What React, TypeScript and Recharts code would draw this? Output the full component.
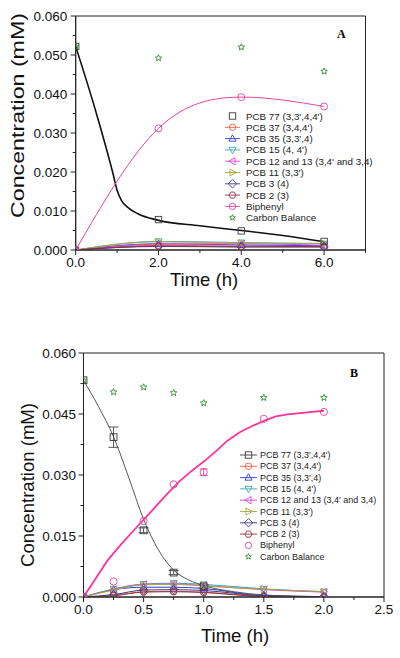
import React from 'react';
import { LineChart, Line, XAxis, YAxis, ReferenceArea, ErrorBar, Legend, Label } from 'recharts';

const FONT = '"Liberation Sans", Arial, Helvetica, sans-serif';

// ---------- Panel A data ----------
const timesA = [0, 2, 4, 6];
const pcb77A = [0.0522, 0.0078, 0.0049, 0.0022];
const pcb37A = [0, 0.0012, 0.001, 0.0009];
const pcb35A = [0, 0.0016, 0.0013, 0.0011];
const pcb15A = [0, 0.0022, 0.0019, 0.0016];
const pcb12A = [0, 0.0015, 0.0016, 0.0012];
const pcb11A = [0, 0.0021, 0.0018, 0.0017];
const pcb3A = [0, 0.0009, 0.0008, 0.0008];
const pcb2A = [0, 0.001, 0.0008, 0.0008];
const biphenylA = [0, 0.0312, 0.0392, 0.0368];
const carbonA = [0.0522, 0.0492, 0.052, 0.0458];
// fitted decay curve for PCB 77
const fitTimesA = [0, 0.5, 0.9, 1.0, 1.1, 1.25, 1.5, 2, 3, 4, 5, 6];
const pcb77FitA = [0.0522, 0.035, 0.0196, 0.0153, 0.0128, 0.011, 0.0093, 0.0076, 0.0062, 0.005, 0.0037, 0.0021];

const xTicksA = [0, 1, 2, 3, 4, 5, 6, 7];
const xLabelsA = [0, 2, 4, 6];
const yTicksA = [0, 0.005, 0.01, 0.015, 0.02, 0.025, 0.03, 0.035, 0.04, 0.045, 0.05, 0.055, 0.06];
const yLabelsA = [0, 0.01, 0.02, 0.03, 0.04, 0.05, 0.06];

// ---------- Panel B data ----------
const timesB = [0, 0.25, 0.5, 0.75, 1.0, 1.5, 2.0];
const pcb77TimesB = [0, 0.25, 0.5, 0.75, 1.0];
const pcb77B = [0.0533, 0.0393, 0.0164, 0.006, 0.0026];
const pcb77ErrB = [0, 0.0025, 0.0006, 0.0005, 0.0004];
const pcb37B = [0, 0.0004, 0.0013, 0.0014, 0.0012, 0.0002, 0.0001];
const pcb35B = [0, 0.0018, 0.0024, 0.0024, 0.0021, 0.0003, 0.0001];
const pcb15B = [0, 0.002, 0.0032, 0.0034, 0.0031, 0.002, 0.0013];
const pcb12B = [0, 0.0018, 0.0031, 0.0032, 0.0028, 0.0018, 0.0012];
const pcb11B = [0, 0.0017, 0.003, 0.0031, 0.0027, 0.0019, 0.0013];
const pcb3B = [0, 0.0006, 0.0017, 0.0018, 0.0016, 0.0003, 0.0001];
const pcb2B = [0, 0.0003, 0.0012, 0.0013, 0.0011, 0.0001, 0];
const biphenylB = [0, 0.0038, 0.0187, 0.0277, 0.0307, 0.0438, 0.0455];
const biphenylErrB = [0, 0, 0, 0, 0.0008, 0, 0];
const carbonB = [0.0533, 0.0504, 0.0516, 0.0502, 0.0477, 0.049, 0.049];
// model curves
const fit77TimesB = [0, 0.125, 0.25, 0.375, 0.5, 0.625, 0.75, 0.875, 1.0, 1.25, 1.5, 1.75, 2.0];
const pcb77FitB = [0.0533, 0.0468, 0.0394, 0.0295, 0.0191, 0.0115, 0.0066, 0.0042, 0.0028, 0.0013, 0.0005, 0.0002, 0.0001];
const fitBiTimesB = [0, 0.1, 0.2, 0.3, 0.4, 0.5, 0.6, 0.7, 0.8, 0.9, 1.0, 1.1, 1.2, 1.3, 1.4, 1.5, 1.6, 1.7, 1.8, 1.9, 2.0];
const biphenylFitB = [0, 0.0045, 0.009, 0.0125, 0.0158, 0.019, 0.0222, 0.0255, 0.0285, 0.031, 0.0333, 0.0358, 0.0385, 0.0405, 0.042, 0.0433, 0.0444, 0.0449, 0.0452, 0.0455, 0.0458];

const xTicksB = [0, 0.25, 0.5, 0.75, 1.0, 1.25, 1.5, 1.75, 2.0, 2.25, 2.5];
const xLabelsB = [0, 0.5, 1.0, 1.5, 2.0, 2.5];
const yTicksB = [0, 0.0075, 0.015, 0.0225, 0.03, 0.0375, 0.045, 0.0525, 0.06];
const yLabelsB = [0, 0.015, 0.03, 0.045, 0.06];

type Shape = 'square' | 'circle' | 'up' | 'down' | 'left' | 'right' | 'diamond' | 'hexagon' | 'star';

const C = {
  pcb77: '#3a3a3a',
  pcb37: '#ee5a3c',
  pcb35: '#2f3fd0',
  pcb15: '#3aa6ae',
  pcb12: '#dd44dd',
  pcb11: '#a8a83a',
  pcb3: '#3c3c8c',
  pcb2: '#8c3444',
  biphenyl: '#e2459c',
  carbon: '#2e8b2e',
};

const toPoints = (xs: number[], ys: number[], errs?: number[]) =>
  xs.map((x, i) => ({ x, y: ys[i], err: errs ? errs[i] : 0 }));

const Marker = ({ shape, cx, cy, color, r = 3.2 }: { shape: Shape; cx: number; cy: number; color: string; r?: number }) => {
  const common = { fill: 'none', stroke: color, strokeWidth: 0.9 };
  const poly = (pts: number[][]) => <polygon points={pts.map((p) => `${cx + p[0]},${cy + p[1]}`).join(' ')} {...common} />;
  switch (shape) {
    case 'square':
      return <rect x={cx - r} y={cy - r} width={2 * r} height={2 * r} {...common} />;
    case 'circle':
      return <circle cx={cx} cy={cy} r={r} {...common} />;
    case 'up':
      return poly([[0, -r * 1.2], [r * 1.1, r * 0.8], [-r * 1.1, r * 0.8]]);
    case 'down':
      return poly([[0, r * 1.2], [r * 1.1, -r * 0.8], [-r * 1.1, -r * 0.8]]);
    case 'left':
      return poly([[-r * 1.2, 0], [r * 0.8, -r * 1.1], [r * 0.8, r * 1.1]]);
    case 'right':
      return poly([[r * 1.2, 0], [-r * 0.8, -r * 1.1], [-r * 0.8, r * 1.1]]);
    case 'diamond':
      return poly([[0, -r * 1.3], [r * 1.3, 0], [0, r * 1.3], [-r * 1.3, 0]]);
    case 'hexagon': {
      const pts = [0, 1, 2, 3, 4, 5].map((k) => [r * 1.1 * Math.cos((Math.PI / 3) * k), r * 1.1 * Math.sin((Math.PI / 3) * k)]);
      return poly(pts);
    }
    case 'star': {
      const pts: number[][] = [];
      for (let k = 0; k < 10; k++) {
        const rr = k % 2 === 0 ? r : r * 0.45;
        const a = -Math.PI / 2 + (Math.PI / 5) * k;
        pts.push([rr * Math.cos(a), rr * Math.sin(a)]);
      }
      return poly(pts);
    }
  }
  return null;
};

const dotFor = (shape: Shape, color: string, id: string, r?: number) => (p: any) =>
  <Marker key={`${id}-${p.index}`} shape={shape} cx={p.cx} cy={p.cy} color={color} r={r} />;

type LegendItem = { name: string; color: string; shape: Shape; line: boolean };

const LegendBox = ({ items, x0, x1, textX, y0, dy, w, fontSize }: { items: LegendItem[]; x0: number; x1: number; textX: number; y0: number; dy: number; w: number; fontSize: number }) => (
  <svg width={w} height={y0 + dy * items.length} style={{ display: 'block', overflow: 'visible' }}>
    {items.map((it, i) => {
      const y = y0 + i * dy;
      const mx = (x0 + x1) / 2;
      return (
        <g key={it.name}>
          {it.line && <line x1={x0} x2={x1} y1={y} y2={y} stroke={it.color} strokeWidth={0.9} />}
          <Marker shape={it.shape} cx={mx} cy={y} color={it.color} r={it.shape === 'star' ? 3 : 3.2} />
          <text x={textX} y={y} dominantBaseline="central" fontSize={fontSize} fontFamily={FONT} fontWeight={400} fill="#222">
            {it.name}
          </text>
        </g>
      );
    })}
  </svg>
);

const legendNames = [
  "PCB 77 (3,3',4,4')",
  "PCB 37 (3,4,4')",
  "PCB 35 (3,3',4)",
  "PCB 15 (4, 4')",
  "PCB 12 and 13 (3,4' and 3,4)",
  "PCB 11 (3,3')",
  'PCB 3 (4)',
  'PCB 2 (3)',
  'Biphenyl',
  'Carbon Balance',
];
const legendShapes: Shape[] = ['square', 'circle', 'up', 'down', 'left', 'right', 'diamond', 'hexagon', 'circle', 'star'];
const legendColors = [C.pcb77, C.pcb37, C.pcb35, C.pcb15, C.pcb12, C.pcb11, C.pcb3, C.pcb2, C.biphenyl, C.carbon];
const legendLinesA = [false, true, true, true, true, true, true, true, true, false];
const legendLinesB = [true, true, true, true, true, true, true, true, false, false];

const itemsA: LegendItem[] = legendNames.map((name, i) => ({ name, color: legendColors[i], shape: legendShapes[i], line: legendLinesA[i] }));
const itemsB: LegendItem[] = legendNames.map((name, i) => ({ name, color: legendColors[i], shape: legendShapes[i], line: legendLinesB[i] }));

const isMajor = (v: number, labels: number[]) => labels.some((l) => Math.abs(l - v) < 1e-9);

const makeXTick = (labels: number[], fontSize: number, dy: number) => (p: any) => {
  const v = p.payload.value;
  const major = isMajor(v, labels);
  return (
    <g key={`xt-${v}`}>
      <line x1={p.x} x2={p.x} y1={p.y} y2={p.y + (major ? 5 : 3)} stroke="#222" strokeWidth={1} />
      {major && (
        <text x={p.x} y={p.y + dy} textAnchor="middle" dominantBaseline="central" fontSize={fontSize} fontFamily={FONT} fontWeight={400} fill="#111">
          {v.toFixed(1)}
        </text>
      )}
    </g>
  );
};

const makeYTick = (labels: number[], fontSize: number, dx: number) => (p: any) => {
  const v = p.payload.value;
  const major = isMajor(v, labels);
  return (
    <g key={`yt-${v}`}>
      <line x1={p.x} x2={p.x - (major ? 5 : 3)} y1={p.y} y2={p.y} stroke="#222" strokeWidth={1} />
      {major && (
        <text x={p.x - dx} y={p.y} textAnchor="end" dominantBaseline="central" fontSize={fontSize} fontFamily={FONT} fontWeight={400} fill="#111">
          {v.toFixed(3)}
        </text>
      )}
    </g>
  );
};

const yTitle = (cx: number, cy: number, size: number, len: number) => () => (
  <text
    x={cx}
    y={cy}
    transform={`rotate(-90 ${cx} ${cy})`}
    textAnchor="middle"
    dominantBaseline="central"
    fontSize={size}
    fontFamily={FONT}
    fontWeight={400}
    fill="#111"
    textLength={len}
    lengthAdjust="spacingAndGlyphs"
  >
    Concentration (mM)
  </text>
);

const xTitle = (cx: number, cy: number, size: number) => () => (
  <text x={cx} y={cy} textAnchor="middle" dominantBaseline="central" fontSize={size} fontFamily={FONT} fontWeight={400} fill="#111">
    Time (h)
  </text>
);

const smallA: [number[], string, Shape, string][] = [
  [pcb37A, C.pcb37, 'circle', 'a37'],
  [pcb35A, C.pcb35, 'up', 'a35'],
  [pcb15A, C.pcb15, 'down', 'a15'],
  [pcb12A, C.pcb12, 'left', 'a12'],
  [pcb11A, C.pcb11, 'right', 'a11'],
  [pcb3A, C.pcb3, 'diamond', 'a3'],
  [pcb2A, C.pcb2, 'hexagon', 'a2'],
];

const smallB: [number[], string, Shape, string][] = [
  [pcb37B, C.pcb37, 'circle', 'b37'],
  [pcb35B, C.pcb35, 'up', 'b35'],
  [pcb15B, C.pcb15, 'down', 'b15'],
  [pcb12B, C.pcb12, 'left', 'b12'],
  [pcb11B, C.pcb11, 'right', 'b11'],
  [pcb3B, C.pcb3, 'diamond', 'b3'],
  [pcb2B, C.pcb2, 'hexagon', 'b2'],
];

const ChartA = () => (
  <LineChart width={400} height={330} margin={{ top: 16, right: 34.5, left: 0, bottom: 0 }}>
    <XAxis
      type="number"
      dataKey="x"
      domain={[0, 7]}
      ticks={xTicksA}
      interval={0}
      height={80}
      tickSize={0}
      tickMargin={0}
      tickLine={false}
      axisLine={{ stroke: '#222' }}
      tick={makeXTick(xLabelsA, 13.5, 12)}
      allowDataOverflow
    >
      <Label content={xTitle(204, 279, 18.5)} />
    </XAxis>
    <YAxis
      type="number"
      domain={[0, 0.06]}
      ticks={yTicksA}
      interval={0}
      width={75.7}
      tickSize={0}
      tickMargin={0}
      tickLine={false}
      axisLine={{ stroke: '#222' }}
      tick={makeYTick(yLabelsA, 13.5, 8.5)}
      allowDataOverflow
    >
      <Label content={yTitle(17.5, 115.5, 19, 205)} />
    </YAxis>
    <ReferenceArea x1={0} x2={7} y1={0} y2={0.06} fill="none" stroke="#222" strokeWidth={1} ifOverflow="visible" />
    {smallA.map(([vals, color, shape, id]) => (
      <Line
        key={id}
        data={toPoints(timesA, vals)}
        dataKey="y"
        type="monotone"
        stroke={color}
        strokeWidth={1}
        dot={dotFor(shape, color, id)}
        isAnimationActive={false}
        legendType="none"
      />
    ))}
    <Line data={toPoints(fitTimesA, pcb77FitA)} dataKey="y" type="monotone" stroke="#111" strokeWidth={1.6} dot={false} isAnimationActive={false} legendType="none" />
    <Line data={toPoints(timesA, pcb77A)} dataKey="y" stroke="none" dot={dotFor('square', C.pcb77, 'a77')} isAnimationActive={false} legendType="none" />
    <Line data={toPoints(timesA, biphenylA)} dataKey="y" type="natural" stroke={C.biphenyl} strokeWidth={1} dot={dotFor('circle', C.biphenyl, 'abi', 3.5)} isAnimationActive={false} legendType="none" />
    <Line data={toPoints(timesA, carbonA)} dataKey="y" stroke="none" dot={dotFor('star', C.carbon, 'acb', 3.4)} isAnimationActive={false} legendType="none" />
    <Legend
      layout="vertical"
      align="center"
      verticalAlign="middle"
      wrapperStyle={{ left: 225, top: 110, width: 170, height: 115 }}
      content={() => <LegendBox items={itemsA} x0={0} x1={15} textX={21} y0={6} dy={11.3} w={170} fontSize={9.8} />}
    />
  </LineChart>
);

const ChartB = () => (
  <LineChart width={400} height={328} margin={{ top: 23, right: 16, left: 0, bottom: 0 }}>
    <XAxis
      type="number"
      dataKey="x"
      domain={[0, 2.5]}
      ticks={xTicksB}
      interval={0}
      height={61}
      tickSize={0}
      tickMargin={0}
      tickLine={false}
      axisLine={{ stroke: '#222' }}
      tick={makeXTick(xLabelsB, 13.5, 12)}
      allowDataOverflow
    >
      <Label content={xTitle(235, 305, 18.5)} />
    </XAxis>
    <YAxis
      type="number"
      domain={[0, 0.06]}
      ticks={yTicksB}
      interval={0}
      width={83.5}
      tickSize={0}
      tickMargin={0}
      tickLine={false}
      axisLine={{ stroke: '#222' }}
      tick={makeYTick(yLabelsB, 13.5, 7.5)}
      allowDataOverflow
    >
      <Label content={yTitle(27, 155, 18.5, 164)} />
    </YAxis>
    <ReferenceArea x1={0} x2={2.5} y1={0} y2={0.06} fill="none" stroke="#222" strokeWidth={1} ifOverflow="visible" />
    {smallB.map(([vals, color, shape, id]) => (
      <Line
        key={id}
        data={toPoints(timesB, vals)}
        dataKey="y"
        type="monotone"
        stroke={color}
        strokeWidth={1}
        dot={dotFor(shape, color, id)}
        isAnimationActive={false}
        legendType="none"
      />
    ))}
    <Line data={toPoints(fit77TimesB, pcb77FitB)} dataKey="y" type="monotone" stroke="#444" strokeWidth={0.9} dot={false} isAnimationActive={false} legendType="none" />
    <Line data={toPoints(pcb77TimesB, pcb77B, pcb77ErrB)} dataKey="y" stroke="none" dot={dotFor('square', C.pcb77, 'b77', 3.4)} isAnimationActive={false} legendType="none">
      <ErrorBar dataKey="err" width={5} stroke="#444" strokeWidth={0.9} direction="y" />
    </Line>
    <Line data={toPoints(fitBiTimesB, biphenylFitB)} dataKey="y" type="linear" stroke="#ff3399" strokeWidth={1.8} dot={false} isAnimationActive={false} legendType="none" />
    <Line data={toPoints(timesB, biphenylB, biphenylErrB)} dataKey="y" stroke="none" dot={dotFor('circle', C.biphenyl, 'bbi', 3.6)} isAnimationActive={false} legendType="none">
      <ErrorBar dataKey="err" width={4} stroke={C.biphenyl} strokeWidth={0.9} direction="y" />
    </Line>
    <Line data={toPoints(timesB, carbonB)} dataKey="y" stroke="none" dot={dotFor('star', C.carbon, 'bcb', 3.4)} isAnimationActive={false} legendType="none" />
    <Legend
      layout="vertical"
      align="center"
      verticalAlign="middle"
      wrapperStyle={{ left: 230, top: 120, width: 165, height: 115 }}
      content={() => <LegendBox items={itemsB} x0={10} x1={27} textX={30} y0={5} dy={11.3} w={165} fontSize={9} />}
    />
  </LineChart>
);

export default function App() {
  return (
    <div style={{ position: 'absolute', left: 0, top: 0, width: 400, height: 658, background: '#fff' }}>
      <div style={{ position: 'absolute', left: 0, top: 0 }}>
        <ChartA />
      </div>
      <div style={{ position: 'absolute', left: 0, top: 330 }}>
        <ChartB />
      </div>
      <div style={{ position: 'absolute', left: 337, top: 27, fontFamily: '"Liberation Serif", serif', fontWeight: 'bold', fontSize: 12, lineHeight: '14px' }}>A</div>
      <div style={{ position: 'absolute', left: 350, top: 366, fontFamily: '"Liberation Serif", serif', fontWeight: 'bold', fontSize: 12, lineHeight: '14px' }}>B</div>
    </div>
  );
}
